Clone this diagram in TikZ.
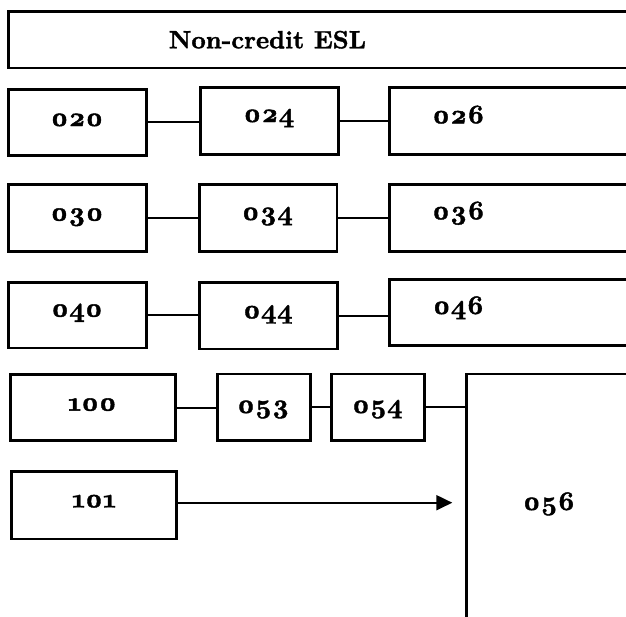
\documentclass[tikz,border=0pt]{standalone}
\usepackage{fontspec}
\newfontfamily\lbfont{lmroman10-bold}[Extension=.otf, Numbers=OldStyle, FakeBold=1.5]
\usetikzlibrary{arrows.meta}
\begin{document}
\begin{tikzpicture}[x=1pt,y=-1pt,
  box/.style={draw, line width=2.6pt, rectangle, inner sep=0pt},
  lbl/.style={anchor=base, inner sep=0pt, font=\lbfont\fontsize{27}{32}\selectfont},
  ttl/.style={anchor=base, inner sep=0pt, font=\lbfont\fontsize{25}{30}\selectfont},
  conn/.style={line width=2pt}]
\useasboundingbox (0,0) rectangle (626,616);
\clip (0,0) rectangle (626,616);
% title
\node[box, minimum width=651.3pt, minimum height=56.7pt] (title) at (334.35,39.7) {};
\node[ttl] (ttitle) at (267.5,48.3) {Non-credit ESL};
% row 1
\node[box, minimum width=137.6pt, minimum height=65.8pt] (n020) at (77.5,122.4) {};
\node[box, minimum width=138pt, minimum height=66.8pt] (n024) at (269.3,120.9) {};
\node[box, minimum width=270.7pt, minimum height=66.8pt] (n026) at (524.65,120.9) {};
\node[lbl] (t020) at (77,126) {020};
\node[lbl] (t024) at (269,122) {024};
\node[lbl] (t026) at (458.5,123.3) {026};
\draw[conn] (n020.east) -- (n020.east -| n024.west);
\draw[conn] (n024.east) -- (n024.east -| n026.west);
% row 2
\node[box, minimum width=137.8pt, minimum height=66.5pt] (n030) at (77.6,218) {};
\node[box, minimum width=137.7pt, minimum height=66.6pt] (n034) at (268.2,218) {};
\node[box, minimum width=270.7pt, minimum height=66.5pt] (n036) at (524.65,218) {};
\node[lbl] (t030) at (77,220.7) {030};
\node[lbl] (t034) at (267.5,220) {034};
\node[lbl] (t036) at (458.5,219.3) {036};
\draw[conn] (n030.east) -- (n030.east -| n034.west);
\draw[conn] (n034.east) -- (n034.east -| n036.west);
% row 3
\node[box, minimum width=137.8pt, minimum height=65.7pt] (n040) at (77.6,315.2) {};
\node[box, minimum width=138.2pt, minimum height=66.7pt] (n044) at (268.4,315.7) {};
\node[box, minimum width=270.7pt, minimum height=66pt] (n046) at (524.65,312.7) {};
\node[lbl] (t040) at (77,316.7) {040};
\node[lbl] (t044) at (268,318.3) {044};
\node[lbl] (t046) at (458.5,314) {046};
\draw[conn] (n040.east) -- (n040.east -| n044.west);
\draw[conn] (n044.east) -- (n044.east -| n046.west);
% row 4
\node[box, minimum width=164.6pt, minimum height=65.6pt] (n100) at (93,407.5) {};
\node[box, minimum width=92.6pt, minimum height=66.4pt] (n053) at (264,407) {};
\node[box, minimum width=93pt, minimum height=66.4pt] (n054) at (378.2,407) {};
\node[box, minimum width=193.5pt, minimum height=276pt] (n056) at (563.25,512) {};
\node[lbl] (t100) at (92.3,410.7) {100};
\node[lbl] (t053) at (263.3,413) {053};
\node[lbl] (t054) at (377.5,413) {054};
\node[lbl] (t056) at (549,510) {056};
\draw[conn] (n100.east) -- (n100.east -| n053.west);
\draw[conn] (n053.east) -- (n053.east -| n054.west);
\draw[conn] (n054.east) -- (n054.east -| n056.west);
% row 5
\node[box, minimum width=165pt, minimum height=67.3pt] (n101) at (94.2,505.2) {};
\node[lbl] (t101) at (94,507.3) {101};
\coordinate (arrowend) at (452.3,502.7);
\draw[conn, -{Triangle[length=16pt,width=15pt]}] (n101.east |- arrowend) -- (arrowend);
\end{tikzpicture}
\end{document}
